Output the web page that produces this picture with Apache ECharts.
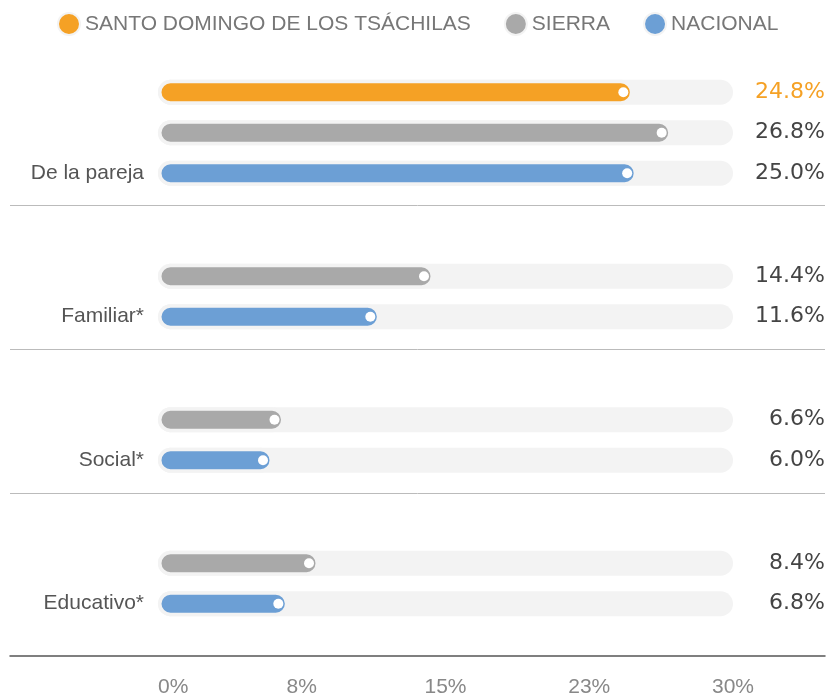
<!DOCTYPE html>
<html>
<head>
<meta charset="utf-8">
<script src="https://cdn.jsdelivr.net/npm/echarts@6/dist/echarts.min.js"></script>
<style>
    html, body { margin: 0; padding: 0; background: #fff; }
    #chart { width: 829px; height: 698px; }
</style>
</head>
<body>
<div id="chart"></div>
<script>
// datos
var categories = ['De la pareja', 'Familiar*', 'Social*', 'Educativo*'];
var seriesNames = ['SANTO DOMINGO DE LOS TSÁCHILAS', 'SIERRA', 'NACIONAL'];
var santoDomingo = [24.8]; // solo hay dato para "De la pareja"
var sierra = [26.8, 14.4, 6.6, 8.4];
var nacional = [25.0, 11.6, 6.0, 6.8];
var xTicks = [0, 7.5, 15, 22.5, 30];

var colors = ['#F5A125', '#A9A9A9', '#6C9FD5'];
var labelColors = ['#F5A125', '#444444', '#444444'];
var values = [santoDomingo, sierra, nacional];

document.addEventListener('DOMContentLoaded', function () {
    var myChart = echarts.init(document.getElementById('chart'));

    var series = [];
    // barras visibles con punto blanco al final
    values.forEach(function (arr, i) {
        series.push({
            name: seriesNames[i],
            type: 'bar',
            xAxisIndex: 0,
            yAxisIndex: 0,
            barWidth: 25,
            barGap: '62%',
            data: arr,
            showBackground: true,
            backgroundStyle: {
                color: '#F3F3F3',
                borderRadius: 13
            },
            itemStyle: {
                color: colors[i],
                borderRadius: 13,
                borderColor: '#F3F3F3',
                borderWidth: 3.5
            },
            label: {
                show: true,
                position: 'insideRight',
                distance: 5,
                formatter: '{d|}',
                rich: {
                    d: { width: 10, height: 10, borderRadius: 5, backgroundColor: '#fff' }
                }
            },
            silent: true
        });
    });
    // etiquetas de valor a la derecha
    values.forEach(function (arr, i) {
        series.push({
            type: 'bar',
            xAxisIndex: 0,
            yAxisIndex: 1,
            barWidth: 25,
            barGap: '62%',
            data: arr,
            itemStyle: { color: 'transparent' },
            label: {
                show: true,
                position: [667, '50%'],
                align: 'right',
                verticalAlign: 'middle',
                color: labelColors[i],
                fontSize: 22,
                fontFamily: 'DejaVu Sans',
                formatter: function (p) { return p.value.toFixed(1) + '%'; }
            },
            silent: true
        });
    });

    var option = {
        backgroundColor: '#fff',
        animation: false,
        legend: {
            data: seriesNames,
            left: 52,
            top: 7,
            itemWidth: 22,
            itemHeight: 22,
            itemGap: 33,
            icon: 'circle',
            textStyle: { color: '#777', fontSize: 21, fontFamily: 'Liberation Sans' }
        },
        grid: [
            { left: 158, right: 96, top: 61, bottom: 61 },
            { left: 10, right: 4, top: 61, bottom: 61 }
        ],
        xAxis: [
            {
                type: 'value',
                gridIndex: 0,
                min: xTicks[0],
                max: xTicks[xTicks.length - 1],
                interval: xTicks[1] - xTicks[0],
                axisLine: { show: false },
                axisTick: { show: false },
                splitLine: { show: false },
                axisLabel: {
                    margin: 42,
                    color: '#888',
                    fontSize: 21,
                    fontFamily: 'Liberation Sans',
                    alignMinLabel: 'left',
                    formatter: function (v) { return Math.round(v) + '%'; }
                }
            },
            {
                type: 'value',
                gridIndex: 1,
                offset: 19,
                axisLine: { show: true, lineStyle: { color: '#555', width: 1.5 } },
                axisTick: { show: false },
                axisLabel: { show: false },
                splitLine: { show: false }
            }
        ],
        yAxis: [
            {
                type: 'category',
                gridIndex: 0,
                inverse: true,
                data: categories,
                axisLine: { show: false },
                axisTick: { show: false },
                axisLabel: {
                    margin: 14,
                    color: '#555',
                    fontSize: 21,
                    fontFamily: 'Liberation Sans',
                    lineHeight: 40,
                    // la etiqueta va alineada con la barra NACIONAL
                    formatter: function (v) { return '\n\n' + v; }
                }
            },
            {
                type: 'category',
                gridIndex: 0,
                inverse: true,
                data: categories,
                show: false
            },
            {
                type: 'category',
                gridIndex: 1,
                inverse: true,
                data: categories,
                axisLine: { show: false },
                axisTick: { show: false },
                axisLabel: { show: false },
                splitLine: {
                    show: true,
                    showMinLine: false,
                    showMaxLine: false,
                    lineStyle: { color: '#BBBBBB', width: 1 }
                }
            }
        ],
        series: series
    };

    myChart.setOption(option);
});
</script>
</body>
</html>
